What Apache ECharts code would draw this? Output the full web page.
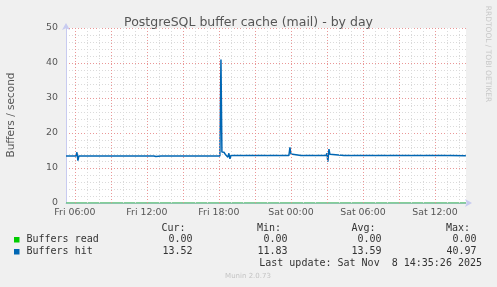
<!DOCTYPE html>
<html>
<head>
<meta charset="utf-8">
<script src="https://cdn.jsdelivr.net/npm/echarts@6/dist/echarts.min.js"></script>
<style>
html,body{margin:0;padding:0;background:#f0f0f0;}
#c{width:497px;height:287px;}
</style>
</head>
<body>
<div id="c"></div>
<script>
// Time axis in hours since Fri 00:00
const xStart = 5.2572;   // Fri 05:15:26
const xEnd = 38.5906;    // Sat 14:35:26
const xTickValues = [6, 12, 18, 24, 30, 36];
const xTickLabels = ['Fri 06:00', 'Fri 12:00', 'Fri 18:00', 'Sat 00:00', 'Sat 06:00', 'Sat 12:00'];
const xMinorGrid = [6,7,8,9,10,11,12,13,14,15,16,17,18,19,20,21,22,23,24,25,26,27,28,29,30,31,32,33,34,35,36,37,38];
const xMajorGrid = [6, 9, 12, 15, 18, 21, 24, 27, 30, 33, 36];

// Buffers read (all zero)
const readTimes = [5.2572, 38.5906];
const readValues = [0, 0];

// Buffers hit
const hitTimes = [
  5.26, 6.08, 6.17, 6.25, 6.33, 7.33, 7.42, 7.5,
  9.08, 9.17, 9.25, 9.42, 9.5, 9.58, 9.67,
  10.92, 11.0, 11.08,
  12.58, 12.67, 12.75, 12.83, 13.17, 13.25, 13.33,
  14.67, 14.75, 14.83,
  18.08, 18.17, 18.25, 18.42, 18.58, 18.75, 18.83, 18.92, 19.0,
  23.83, 23.92, 24.0, 24.08,
  24.83, 24.92, 25.0, 25.17, 25.25, 25.33, 25.42,
  26.92, 27.0, 27.08, 27.17, 27.25, 27.33,
  28.42, 28.5, 28.58,
  29.92, 30.0, 30.08, 30.25, 30.33, 30.42,
  31.17, 31.25, 31.33, 31.5, 31.58, 31.67,
  32.92, 33.0, 33.08,
  37.0, 37.08, 37.17,
  38.58
];
const hitValues = [
  13.45, 13.45, 14.5, 12.1, 13.45, 13.45, 13.75, 13.45,
  13.45, 13.75, 13.45, 13.45, 13.2, 13.7, 13.45,
  13.45, 13.75, 13.45,
  13.45, 13.7, 13.3, 13.45, 13.45, 13.75, 13.45,
  13.45, 13.75, 13.45,
  13.45, 40.97, 14.6, 14.5, 13.7, 13.1, 14.2, 12.6, 13.55,
  13.55, 15.9, 14.0, 13.55,
  13.55, 13.8, 13.55, 13.55, 13.8, 13.55, 13.55,
  13.55, 14.2, 11.83, 15.4, 13.9, 13.55,
  13.55, 13.8, 13.55,
  13.55, 13.8, 13.55, 13.55, 13.8, 13.55,
  13.55, 13.8, 13.55, 13.55, 13.8, 13.55,
  13.55, 13.85, 13.55,
  13.55, 13.3, 13.55,
  13.52
];

// Legend table
const legendNames = ['Buffers read', 'Buffers hit'];
const legendColors = ['#00cc00', '#0066b3'];
const legendHeaders = ['Cur:', 'Min:', 'Avg:', 'Max:'];
const legendCur = ['0.00', '13.52'];
const legendMin = ['0.00', '11.83'];
const legendAvg = ['0.00', '13.59'];
const legendMax = ['0.00', '40.97'];
const titleText = 'PostgreSQL buffer cache (mail) - by day';
const yAxisName = 'Buffers / second';
const lastUpdate = 'Last update: Sat Nov  8 14:35:26 2025';
const footer = 'Munin 2.0.73';
const sideText = 'RRDTOOL / TOBI OETIKER';

const chart = echarts.init(document.getElementById('c'), null, {renderer: 'canvas'});

const sans = 'DejaVu Sans';
const mono = 'DejaVu Sans Mono';
const minorStyle = {color: '#dadada', width: 1, type: [1, 2]};
const majorStyle = {color: 'rgba(232,140,140,0.9)', width: 1, type: [1, 2]};

const gridMarkData = [];
xMinorGrid.forEach(v => { if (xMajorGrid.indexOf(v) < 0) gridMarkData.push({xAxis: v, lineStyle: minorStyle}); });
xMajorGrid.forEach(v => gridMarkData.push({xAxis: v, lineStyle: majorStyle}));

const colX = [185.5, 281, 375.5, 470];
const valX = [192.5, 287.5, 381.5, 476.5];
const rowY = [239.5, 251.5];
const graphics = [];
legendNames.forEach((n, i) => {
  graphics.push({type: 'rect', shape: {x: 14, y: rowY[i] - 2.5, width: 5.5, height: 5.5}, style: {fill: legendColors[i]}});
  graphics.push({type: 'text', x: 26.5, y: rowY[i], style: {text: n, font: '10px "' + mono + '"', fill: '#333', textVerticalAlign: 'middle', textAlign: 'left'}});
  const vals = [legendCur[i], legendMin[i], legendAvg[i], legendMax[i]];
  vals.forEach((v, j) => {
    graphics.push({type: 'text', x: valX[j], y: rowY[i], style: {text: v, font: '10px "' + mono + '"', fill: '#333', textVerticalAlign: 'middle', textAlign: 'right'}});
  });
});
legendHeaders.forEach((h, j) => {
  graphics.push({type: 'text', x: colX[j], y: 228, style: {text: h, font: '10px "' + mono + '"', fill: '#333', textVerticalAlign: 'middle', textAlign: 'right'}});
});
graphics.push({type: 'text', x: 482, y: 263.5, style: {text: lastUpdate, font: '10px "' + mono + '"', fill: '#333', textVerticalAlign: 'middle', textAlign: 'right'}});
graphics.push({type: 'text', x: 248, y: 276, style: {text: footer, font: '7px "' + sans + '"', fill: '#c4c4c4', textVerticalAlign: 'middle', textAlign: 'center'}});
graphics.push({type: 'text', x: 487.5, y: 54, rotation: -Math.PI / 2, style: {text: sideText, font: '7.5px "' + sans + '"', fill: '#c8c8c8', textVerticalAlign: 'middle', textAlign: 'center'}});
graphics.push({type: 'text', x: 11, y: 115, rotation: Math.PI / 2, style: {text: yAxisName, font: '10.5px "' + sans + '"', fill: '#555', textVerticalAlign: 'middle', textAlign: 'center'}});

const option = {
  backgroundColor: '#f0f0f0',
  animation: false,
  title: {
    text: titleText, left: 'center', top: 11,
    textStyle: {fontFamily: sans, fontSize: 12.5, fontWeight: 'normal', color: '#555'}
  },
  grid: {left: 66, right: 31, top: 28, bottom: 84, show: true, backgroundColor: '#ffffff', borderWidth: 0},
  xAxis: {
    type: 'value', min: xStart, max: xEnd,
    axisLine: {show: true, lineStyle: {color: '#c8cbf0', width: 1}, symbol: ['none', 'arrow'], symbolSize: [6, 7], symbolOffset: [0, 6]},
    axisTick: {show: false},
    splitLine: {show: false},
    axisLabel: {
      customValues: xTickValues,
      margin: 5,
      fontFamily: sans, fontSize: 9.4, color: '#555',
      formatter: v => { const i = xTickValues.indexOf(Math.round(v)); return i >= 0 ? xTickLabels[i] : ''; }
    }
  },
  yAxis: {
    type: 'value', min: 0, max: 50, interval: 10,
    axisLine: {show: true, lineStyle: {color: '#c8cbf0', width: 1}, symbol: ['none', 'arrow'], symbolSize: [6, 7], symbolOffset: [0, 5]},
    axisTick: {show: false},
    minorTick: {show: false, splitNumber: 5},
    minorSplitLine: {show: true, lineStyle: minorStyle},
    splitLine: {show: true, lineStyle: majorStyle},
    axisLabel: {margin: 8, fontFamily: sans, fontSize: 9.4, color: '#555'}
  },
  graphic: graphics,
  series: [
    {
      name: 'grid', type: 'line', data: [[xStart, 0]], symbol: 'none', silent: true,
      lineStyle: {opacity: 0}, z: 1,
      markLine: {silent: true, symbol: 'none', label: {show: false}, data: gridMarkData, animation: false}
    },
    {
      name: legendNames[0], type: 'line', symbol: 'none', z: 3,
      data: readTimes.map((t, i) => [t, readValues[i]]),
      lineStyle: {color: '#5cbf76', width: 1.6}
    },
    {
      name: legendNames[1], type: 'line', symbol: 'none', z: 4,
      data: hitTimes.map((t, i) => [t, hitValues[i]]),
      lineStyle: {color: legendColors[1], width: 1.5}
    }
  ]
};
chart.setOption(option);
</script>
</body>
</html>
